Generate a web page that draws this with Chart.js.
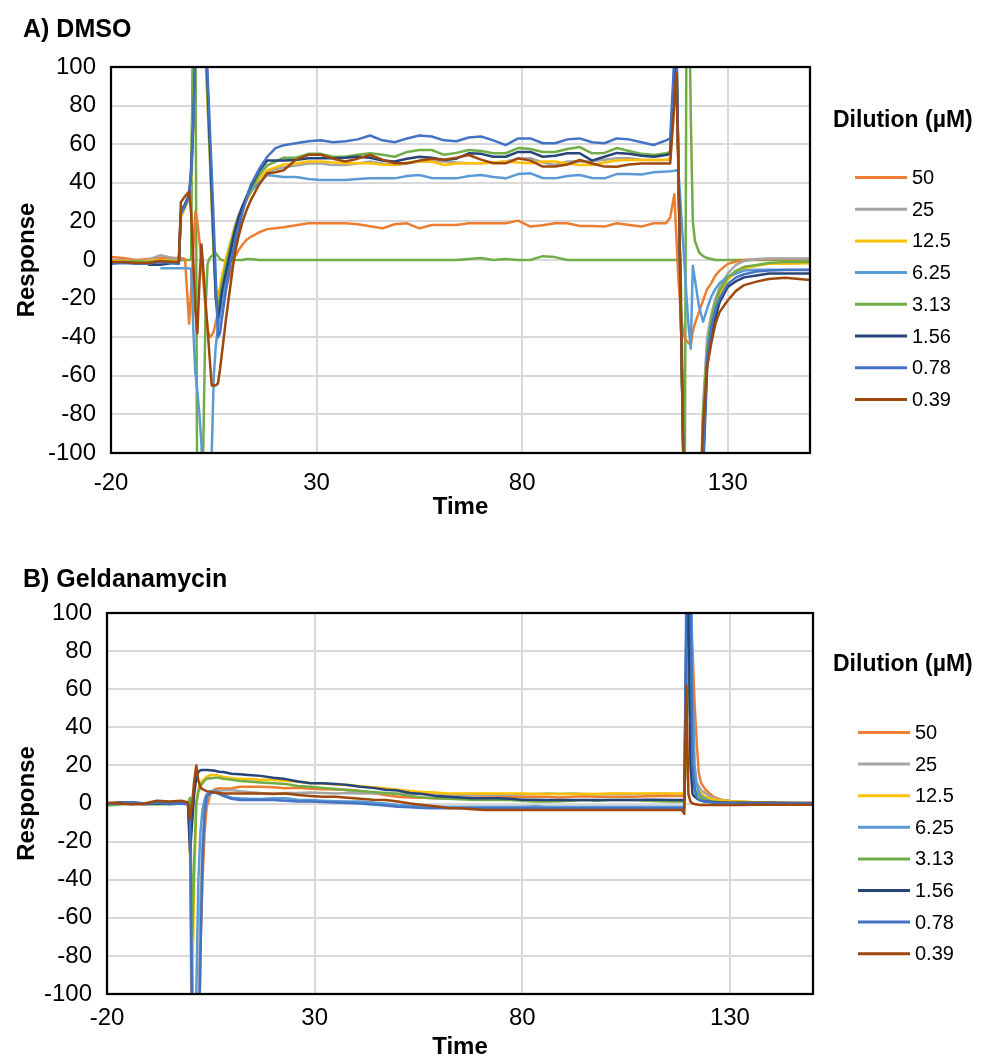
<!DOCTYPE html>
<html><head><meta charset="utf-8">
<script src="https://cdn.jsdelivr.net/npm/chart.js@4.4.1/dist/chart.umd.min.js"></script>
<style>
html,body{margin:0;padding:0;background:#fff;width:984px;height:1057px;overflow:hidden;}
.wrap{position:absolute;left:0;}
.ptitle{position:absolute;left:23px;font:bold 25px "Liberation Sans",Arial,sans-serif;color:#000;line-height:1;z-index:2;white-space:nowrap;}
</style></head><body>
<div class="wrap" style="top:0;width:984px;height:530px"><canvas id="cA" width="984" height="530"></canvas></div>
<div class="wrap" style="top:548px;width:984px;height:509px"><canvas id="cB" width="984" height="509"></canvas></div>
<div class="ptitle" style="top:16px">A) DMSO</div>
<div class="ptitle" style="top:566px">B) Geldanamycin</div>
<script>
// ---------- shared labels ----------
const xTickValues = [-20, 30, 80, 130];
const yTickValues = [-100, -80, -60, -40, -20, 0, 20, 40, 60, 80, 100];
const dilutionLabels = ['50', '25', '12.5', '6.25', '3.13', '1.56', '0.78', '0.39'];
const seriesColors = ['#ED7D31', '#A5A5A5', '#FFC000', '#5B9BD5', '#70AD47', '#264478', '#4472C4', '#9E480E'];
const refColor = '#70AD47';

// ---------- Panel A (DMSO) ----------
const timeA = [-20,-17,-14,-11,-8,-5,-3.5,-3,-2,-1,-0.5,
  0,0.5,1,1.5,2,2.5,3,3.5,4,4.5,5,5.5,6,6.5,7,
  8,9,10,11,12,13,14,16,18,20,22,
  25,28,31,34,37,40,43,46,49,52,55,58,61,64,67,70,73,76,79,82,85,88,91,94,97,100,103,106,109,112,115,
  116,117,117.5,118,118.5,119,119.5,120,120.5,121,121.5,122,
  123,124,125,126,127,128,130,132,134,137,140,144,150];

const dmsoRef = [-1,-1,-0.5,0,0,0,0,0,0,0,0,
  150,150,-150,-150,-150,-90,-25,-2,1,2,3,3.5,2,0.5,0,
  -0.5,0,0,0,0,0.5,0.5,0,0,0,0,
  0,0,0,0,0,0,0,0,0,0,0,0,0,0,0.5,1,0,0.5,0,0,2,1.5,0,0,0,0,0,0,0,0,0,
  0,0,0,0,0,-60,-150,150,150,75,20,10,
  4,2,1,0.5,0,0,0,0,0,0,0,0,0];
const dmso50 = [1.5,1,0,0.5,1,1,1,1,0.5,-33,-15,
  5,25,20,10,0,-12,-25,-36,-40,-39,-37,-32,-28,-24,-20,
  -14,-7,1,5,8,10.5,12,14.3,16,16.5,17,
  18,19,19,19,19,18.5,17.5,16.4,18.5,19,16.4,18.1,18.1,18.1,19,19,19,19,20.4,17.3,18,19,19,17.6,17.6,17.3,19,18.1,17.3,19,19,
  22,34,12,-10,-25,-35,-40,-42,-43,-44,-37,-33,
  -27,-21,-15,-12,-8,-5.5,-2,-0.8,0,0.3,0.5,0.5,0.5];
const dmso25 = [0,0,-0.5,0,2.5,1,0,24,28,33,42,
  68,105,150,150,150,150,105,80,55,28,2,-20,-22,-16,-10,
  0,8,17,23,28,32,36,42,46,47,48,
  49,50,50,49.2,49.2,50,51,50,49.2,50,51,51,51,50.5,50.1,50.1,50.5,51,52.5,52.7,50.5,49.2,51,51,51,52,52.7,52.7,52,51.8,51.8,
  52,95,110,47,-15,-78,-140,-150,-150,-150,-150,-150,
  -150,-75,-40,-28,-20,-14.5,-7,-2.5,-0.5,0.5,0.8,0.8,0.8];
const dmso12 = [-0.5,-0.5,-0.5,-0.5,0,-0.5,-0.5,22,27,32,42,
  66,105,150,150,150,150,108,82,56,30,4,-15,-19,-14,-8,
  1,9,16,22,27,31,35,42,46.5,48,49.5,
  50,51,51,50.5,50.1,50.1,50.1,49.5,49.2,50.5,51,51,49.2,50,50.1,50.1,50.5,51,50.5,50.1,51,51,50,49.2,49.2,50.5,51.5,51.8,51.8,51.8,51.8,
  53,92,110,47,-15,-78,-140,-150,-150,-150,-150,-150,
  -150,-85,-48,-34,-24,-18,-10,-6.5,-4.5,-3,-2,-2,-1.7];
const dmso625 = [null,null,null,null,-4.3,-4.3,-4.3,-4.3,-4.3,-4.3,-5,
  -35,-58,-68,-80,-95,-150,-150,-150,-150,-100,-60,-44,-36,-29,-22,
  -10,1,11,19,27,32,35.5,40,44,43.5,43,
  43,42,41.4,41.4,41.4,42,42.3,42.3,42.3,43.5,44,42.5,42.3,42.3,43.5,44,43,42.3,44.5,44.9,42.5,42.3,43.5,44,42.5,42.3,44.5,44.5,44.3,45.5,45.8,
  46,46.3,46.5,46,30,13,-3,-20,-35,-46,-3,-10,
  -24,-32,-25,-19,-15,-12,-8.5,-7,-5.5,-5,-5,-5,-5];
const dmso313 = [-1.5,-1,-0.5,-1,-0.5,-1,-1,24,28,33,50,
  105,150,150,150,150,150,112,86,60,33,6,-18,-25,-19,-12,
  -2,7,15,22,27,32,36,44,49,51,53,
  53,55,55,53.5,53.5,54.5,55.3,54.5,53.5,56,57,57,54.5,55.5,57,56.5,55.3,55.3,58,57.5,56,56,57.5,58.5,55.3,55.5,58,56.5,55,54.4,55.3,
  56,100,112,48,-15,-78,-140,-150,-150,-150,-150,-150,
  -150,-80,-46,-31,-22,-16,-9,-5.6,-3.5,-2.6,-1.5,-1,-1];
const dmso156 = [null,null,null,-2.5,-2.5,-1.5,-2,25,29,34,45,
  70,105,150,150,150,150,115,90,62,35,8,-20,-30,-24,-16,
  -6,4,14,22,28,33,38,46,51.5,51.5,51.5,
  51.8,52.7,52.7,52.7,53,53.5,53,51.5,51,52.5,53.5,53,51.8,52.5,55.3,55,53.5,53.5,56,56,53.5,54,55.3,55.3,51.5,53.5,55.5,55,54,53.5,54.4,
  55,98,112,48,-15,-78,-140,-150,-150,-150,-150,-150,
  -150,-110,-55,-40,-30,-22,-14,-11,-9,-8,-7,-7,-7];
const dmso078 = [-2,-1.5,-2,-2,-1,-1.5,-2,24,28,33,45,
  70,105,150,150,150,150,120,95,70,45,18,-10,-40,-38,-30,
  -15,-2,7,16,25,32,39,47,53.5,58,59.5,
  60.5,61.5,62,61,61.5,62.5,64.5,62,61,63,64.5,64,62,61.5,63.5,64,62,59.5,63,63,60.5,60.5,62.5,63,61,60.5,63,62.5,61,59.6,62,
  63,105,115,50,-15,-78,-140,-150,-150,-150,-150,-150,
  -150,-105,-50,-35,-26,-20,-12.5,-9,-7.4,-6,-5.5,-5.2,-5.2];
const dmso039 = [-1,-1,-1.5,-1.5,-0.5,-1,-1,30,33,35.5,24,
  0,-26,-38,-12,8,-6,-22,-36,-51,-65,-65,-65,-64,-57,-48,
  -30,-14,2,12,20,26,31,39,45,45.5,46.5,
  52,54.5,54.5,52.5,51,52.5,54.4,52,50.1,50.1,51.5,52.5,52,53,54.4,52,50.1,50.1,52.7,51.5,48.4,48.4,49.5,51.8,50,48.4,48.3,49.5,50,50,50,
  50,80,97,45,-15,-78,-140,-150,-150,-150,-150,-150,
  -150,-85,-55,-43,-33,-27,-21,-16,-13,-11.2,-9.8,-9.2,-10.4];

// ---------- Panel B (Geldanamycin) ----------
const timeB = [-20,-17,-14,-11,-8,-5,-2,-0.5,
  0,0.5,1,1.5,2,2.5,3,3.5,4,
  5,6,7,8,10,12,14,17,
  20,23,26,29,32,35,38,41,44,47,50,53,56,59,62,65,68,71,74,77,80,83,86,89,92,95,98,101,104,107,110,113,116,
  118,118.5,119,119.5,120,120.5,121,121.5,122,122.5,123,
  124,125,126,127,128,130,132,135,140,145,150];

const gel50 = [0,0.5,0,-0.5,0,0,0,0,
  -20,-150,-150,-150,-150,-75,-40,-15,-2,
  6,7.5,8,7.9,8,8.8,8.8,8.8,
  8.5,8,8.3,7.8,7.5,7.4,7.2,6.5,5.5,4.5,3.6,3.2,3,2.7,2.7,3,3.2,3.2,3.4,3.6,3.6,3.6,3.6,3.2,3.6,3.8,3.6,3.6,3.6,3.6,3.8,4,4,
  4,4,4,40,110,100,80,52,32,16,11,
  7.5,5.5,3.6,2.7,2,1.3,1,0.5,0.3,0.2,0];
const gel25 = [0,0,0.5,0,0,0,0.5,0,
  -10,-80,-150,-150,-120,-50,-20,-5,2,
  5.5,6.2,6.5,7,7,6.5,6,5.5,
  5.3,5.5,5.5,5.8,5.5,5.3,5.5,5.3,5.3,5.5,5.3,5.3,5,4.8,4.5,4.5,4.5,4.5,4.5,4.5,4.8,5,5.3,5,5.3,5,4.8,5,5,4.8,5,5.3,5,
  5,5,5,30,95,55,25,13,11,9,7,
  5.5,4,3,2.2,1.8,1.3,1,0.7,0.5,0.3,0.2];
const gel12 = [-0.5,0,0,-0.5,0,0,0,0,
  -27,-100,-40,0,8,11,12,13,14,
  15,15,14.5,14,13.2,13,12.8,12.5,
  12.3,12,11.4,10.8,10.5,10,9.7,9,8.5,8,7.2,6.5,6,5.8,5.3,5.3,5.3,5.3,5.3,5.3,5.3,5,5,5,5,5,5,5.3,5.3,5.3,5.3,5.3,5.3,
  5.3,5.3,5.3,30,90,60,30,14,9,7,5.5,
  3.5,2.7,2.2,1.8,1.6,1.2,1,0.8,0.5,0.3,0.3];
const gel625 = [0,0,0,-0.5,0,-0.5,0,0,
  -5,-100,-150,-100,-40,-15,-3,2,5,
  6.5,6.8,6,4.5,3,2.7,2.5,2.3,
  2.7,2.7,2,1.8,1.5,1.2,1,1,0.5,0,-0.8,-1.2,-1.7,-1.7,-1.7,-1.7,-1.7,-1.7,-1.7,-1.7,-1.7,-1.5,-1.7,-1.7,-1.7,-1.7,-1.7,-1.7,-1.7,-1.7,-1.7,-1.7,-1.7,
  -1.7,-1.7,-1.7,80,150,150,60,20,10,6,4,
  2.5,1.5,1,0.5,0.3,0,0,0,0,0,0];
const gel313 = [-1,-0.5,0,0,-0.5,0,0,0.5,
  3,-70,-30,0,6,9,10.6,12,13,
  13.3,13.5,13.5,13,12.5,11.8,11.5,11,
  10.6,10.2,9.2,8.8,8.2,7.6,7,6.5,6,5.5,5,4,3.2,2.7,2.5,2.2,2,1.8,1.8,1.8,1.5,1,1,1.2,1.5,1.8,1.5,1.8,1.8,1.8,1.5,1.2,1,
  1,1,1,35,80,40,15,8,5.5,4,3,
  2,1.5,1,0.8,0.6,0.4,0.3,0.2,0,0,0];
const gel156 = [0,0.5,0.5,0,0,0,0,0,
  -26,-10,5,14,16.5,17.5,17.6,17.6,17.6,
  17.5,17.2,16.7,16.5,15.6,15.3,15,14.5,
  13.5,12.8,11.5,10.6,10.6,10.3,9.7,8.8,8.2,7.2,6.8,5.5,5,4,3.6,3.2,2.7,2.7,2.7,2.5,2,2,1.8,1.8,1.8,1.8,1.8,1.8,1.8,1.8,2,2,1.8,
  1.8,1.8,1.5,90,110,20,5,3.5,2.7,2,1.5,
  1,0.9,0.7,0.5,0.5,0.4,0.4,0.4,0.4,0.3,0.3];
const gel078 = [0,0,0.5,0,0.5,0,0,-0.5,
  -5,-120,-150,-150,-150,-80,-30,-5,3.6,
  5.5,5.8,5,4,2.5,1.8,1.8,1.8,
  1.8,1.5,1,1,0.8,0.5,0.2,0,-0.5,-1,-1.7,-2,-2.3,-2.5,-2.5,-2.5,-2.5,-2.5,-2.5,-2.5,-2.5,-2.5,-2.5,-2.5,-2.5,-2.5,-2.5,-2.5,-2.5,-2.5,-2.5,-2.5,-2.5,
  -2.5,-2.5,-2.5,110,150,110,20,8,3,2,1.5,
  1,0.8,0.5,0.3,0.3,0.2,0,0,0,0,0];
const gel039 = [0.5,0,-0.5,0,1.5,1,1.5,0.5,
  -8,0,12,20,12,8.5,7.5,7,6.5,
  6,5.8,5.5,5.3,5.3,5.3,5.3,5.3,
  5,5.2,4.5,4,3.6,3.6,3,2.5,2,1.8,1,0,-0.8,-1.5,-2.3,-2.5,-3,-3.4,-3.4,-3.4,-3.4,-3.4,-3.4,-3.4,-3.4,-3.4,-3.4,-3.4,-3.4,-3.4,-3.4,-3.4,-3.4,
  -3.4,-3.5,-5.5,62,5,1,0,-0.3,-0.5,-0.7,-0.8,
  -0.8,-0.8,-0.8,-0.8,-0.8,-0.8,-0.8,-0.7,-0.7,-0.6,-0.6];

const FONT = '"Liberation Sans", Arial, sans-serif';

function buildDatasets(times, seriesList, refSeries) {
  const ds = [];
  let order = seriesList.length + (refSeries ? 1 : 0);
  const toPts = vals => times.map((t, i) => ({ x: t, y: vals[i] === undefined ? null : vals[i] }));
  if (refSeries) {
    ds.push({ label: '', data: toPts(refSeries), borderColor: refColor, borderWidth: 2.5, order: order-- });
  }
  seriesList.forEach((vals, k) => {
    ds.push({ label: dilutionLabels[k], data: toPts(vals), borderColor: seriesColors[k], borderWidth: 2.5, order: order-- });
  });
  return ds;
}

const sideLegend = {
  id: 'sideLegend',
  afterDraw(chart, args, o) {
    const ctx = chart.ctx;
    ctx.save();
    ctx.fillStyle = '#000';
    ctx.textAlign = 'left';
    ctx.textBaseline = 'middle';
    ctx.font = 'bold 23px ' + FONT;
    ctx.fillText(o.title, o.titleX, o.titleY);
    ctx.font = '20px ' + FONT;
    let y = o.itemY;
    chart.data.datasets.forEach(d => {
      if (!d.label) return;
      ctx.strokeStyle = d.borderColor;
      ctx.lineWidth = 3;
      ctx.beginPath();
      ctx.moveTo(o.lineX0, y);
      ctx.lineTo(o.lineX1, y);
      ctx.stroke();
      ctx.fillText(d.label, o.textX, y + 1);
      y += o.step;
    });
    ctx.restore();
  }
};

const frame = {
  id: 'frame',
  afterDatasetsDraw(chart) {
    const a = chart.chartArea, ctx = chart.ctx;
    ctx.save();
    ctx.strokeStyle = '#000';
    ctx.lineWidth = 2.25;
    ctx.strokeRect(a.left, a.top, a.right - a.left, a.bottom - a.top);
    ctx.restore();
  }
};

function makeChart(id, times, seriesList, refSeries, g) {
  return new Chart(document.getElementById(id), {
    type: 'line',
    data: { datasets: buildDatasets(times, seriesList, refSeries) },
    plugins: [sideLegend, frame],
    options: {
      responsive: false, animation: false, devicePixelRatio: 1,
      layout: { padding: { left: 0, right: g.padRight, top: g.padTop, bottom: 0 } },
      elements: { point: { radius: 0 }, line: { tension: 0, borderJoinStyle: 'round' } },
      plugins: {
        legend: { display: false }, tooltip: { enabled: false },
        sideLegend: g.legend
      },
      scales: {
        x: {
          type: 'linear', min: -20, max: 150,
          afterBuildTicks: s => { s.ticks = xTickValues.map(v => ({ value: v })); },
          afterFit: s => { s.height = g.xAxisH; },
          grid: { color: '#d9d9d9', lineWidth: 2, drawTicks: false },
          border: { display: false },
          ticks: { font: { family: FONT, size: 24 }, color: '#000', padding: g.xTickPad, maxRotation: 0, autoSkip: false },
          title: { display: true, text: 'Time', color: '#000', font: { family: FONT, size: 24, weight: 'bold', lineHeight: 1 }, padding: { top: 0, bottom: g.xTitlePad } }
        },
        y: {
          type: 'linear', min: -100, max: 100,
          afterBuildTicks: s => { s.ticks = yTickValues.map(v => ({ value: v })); },
          afterFit: s => { s.width = g.yAxisW; },
          grid: { color: '#d9d9d9', lineWidth: 2, drawTicks: false },
          border: { display: false },
          ticks: { font: { family: FONT, size: 24 }, color: '#000', padding: 15 },
          title: { display: true, text: 'Response', color: '#000', font: { family: FONT, size: 24, weight: 'bold', lineHeight: 1 }, padding: { top: 15, bottom: 0 } }
        }
      }
    }
  });
}

makeChart('cA', timeA, [dmso50, dmso25, dmso12, dmso625, dmso313, dmso156, dmso078, dmso039], dmsoRef, {
  padRight: 174, padTop: 67, xAxisH: 77, yAxisW: 111, xTickPad: 16, xTitlePad: 11,
  legend: { title: 'Dilution (µM)', titleX: 833, titleY: 121, lineX0: 855, lineX1: 907, textX: 912, itemY: 177.5, step: 31.7 }
});
makeChart('cB', timeB, [gel50, gel25, gel12, gel625, gel313, gel156, gel078, gel039], null, {
  padRight: 171, padTop: 65, xAxisH: 63, yAxisW: 107, xTickPad: 10, xTitlePad: -2,
  legend: { title: 'Dilution (µM)', titleX: 833, titleY: 117, lineX0: 858, lineX1: 910, textX: 915, itemY: 184.5, step: 31.6 }
});
</script>
</body></html>
